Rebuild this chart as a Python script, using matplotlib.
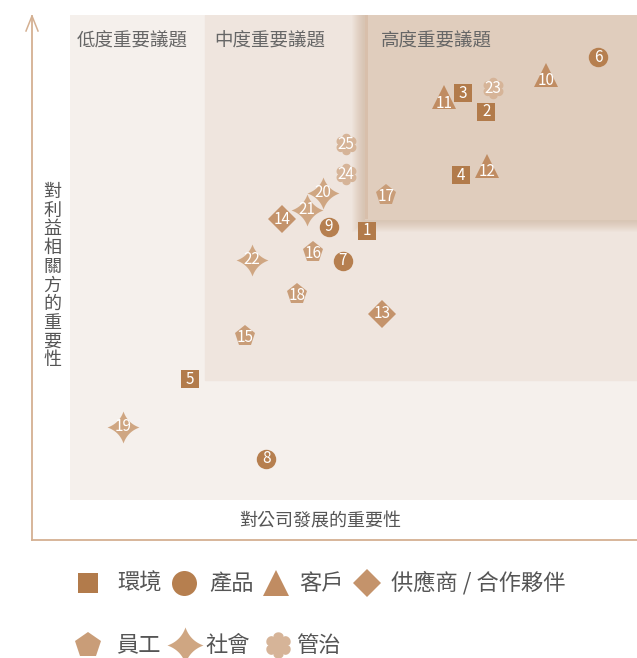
import numpy as np
import matplotlib
matplotlib.use("Agg")
import matplotlib.pyplot as plt
from matplotlib.patches import Rectangle

plt.rcParams['font.family'] = ['Noto Sans CJK TC', 'DejaVu Sans']

# data: issue number, importance to company (x), importance to stakeholders (y)
env_ids = [1, 2, 3, 4, 5]
env_x = [5.24, 7.34, 6.93, 6.90, 2.12]
env_y = [5.55, 8.00, 8.39, 6.70, 2.49]

prod_ids = [6, 7, 8, 9]
prod_x = [9.31, 4.81, 3.46, 4.57]
prod_y = [9.13, 4.93, 0.85, 5.63]

cust_ids = [10, 11, 12]
cust_x = [8.40, 6.60, 7.35]
cust_y = [8.76, 8.30, 6.89]

supp_ids = [13, 14]
supp_x = [5.50, 3.74]
supp_y = [3.84, 5.79]

emp_ids = [15, 16, 17, 18]
emp_x = [3.09, 4.29, 5.57, 4.00]
emp_y = [3.38, 5.11, 6.29, 4.25]

soc_ids = [19, 20, 21, 22]
soc_x = [0.93, 4.46, 4.18, 3.21]
soc_y = [1.51, 6.33, 5.98, 4.95]

gov_ids = [23, 24, 25]
gov_x = [7.46, 4.87, 4.87]
gov_y = [8.49, 6.72, 7.34]

legend_labels = ['環境', '產品', '客戶', '供應商 / 合作夥伴', '員工', '社會', '管治']
region_labels = ['低度重要議題', '中度重要議題', '高度重要議題']
xlabel = '對公司發展的重要性'
ylabel = '對利益相關方的重要性'

# custom marker shapes
# 4-point star: concave curves between tips
tips = [(1, 0), (0, 1), (-1, 0), (0, -1), (1, 0)]
s = np.linspace(0, 1, 30)[:, None]
pts = []
for a, b in zip(tips[:-1], tips[1:]):
    a = np.array(a, float)
    b = np.array(b, float)
    c = (a + b) * 0.26
    pts.append((1 - s) ** 2 * a + 2 * s * (1 - s) * c + s ** 2 * b)
star_marker = np.vstack(pts)
t = np.linspace(0, 2 * np.pi, 240)
r_flower = 0.72 + 0.28 * np.abs(np.sin(3 * t)) ** 0.5
flower_marker = np.column_stack([r_flower * np.cos(t), r_flower * np.sin(t)])

groups = [
    (env_ids, env_x, env_y, 's', 12.5, '#b27b4b', 0),
    (prod_ids, prod_x, prod_y, 'o', 14, '#b67f4f', 0),
    (cust_ids, cust_x, cust_y, '^', 17, '#c08c62', -0.12),
    (supp_ids, supp_x, supp_y, 'D', 14.5, '#c4936b', 0),
    (emp_ids, emp_x, emp_y, 'p', 15.5, '#c99d78', -0.03),
    (soc_ids, soc_x, soc_y, star_marker, 23, '#cfa682', 0),
    (gov_ids, gov_x, gov_y, flower_marker, 15.5, '#d6b498', 0),
]

fig = plt.figure(figsize=(6.37, 6.58), dpi=100)
W, H = 637, 658

# overlay in pixel coords for frame, labels and legend
ov = fig.add_axes([0, 0, 1, 1], zorder=0)
ov.set_xlim(0, W)
ov.set_ylim(H, 0)
ov.axis('off')

axis_col = '#d4b092'
ov.plot([32, 32], [540, 16], color=axis_col, lw=1.3)
ov.plot([32, W], [540, 540], color=axis_col, lw=1.3)
ov.plot([26, 32, 38], [31, 16, 31], color=axis_col, lw=1.1)

ov.text(320, 522, xlabel, fontsize=13, color='#555555', ha='center', va='center')
for i, ch in enumerate(ylabel):
    ov.text(52, 192 + i * 18.7, ch, fontsize=13, color='#555555', ha='center', va='center')

# main plot area
left, right, top, bottom = 70, 637, 15, 500
ax = fig.add_axes([left / W, 1 - bottom / H, (right - left) / W, (bottom - top) / H], zorder=1)
ax.set_xlim(0, 10)
ax.set_ylim(0, 10)
ax.set_facecolor('none')
ax.axis('off')

ax.add_patch(Rectangle((0, 0), 10, 10, color='#f5f0ec', zorder=0))
mx, my = 2.38, 2.47
ax.add_patch(Rectangle((mx, my), 10 - mx, 10 - my, color='#efe5de', zorder=0.5))
hx, hy = 5.20, 5.79
dx, dy = 10 / 567, 10 / 485
for k in range(13, 0, -1):
    ax.add_patch(Rectangle((hx - k * dx, hy - k * dy), 10, 10, color='#b07a4a',
                           alpha=0.025, lw=0, zorder=0.6))
ax.add_patch(Rectangle((hx, hy), 10 - hx, 10 - hy, color='#e0cdbd', zorder=0.7))
ax.add_patch(Rectangle((hx, hy), 3 * dx, 10 - hy, color='#d8bfab', lw=0, zorder=0.75))

for lab, x0 in zip(region_labels, [0.12, 2.55, 5.48]):
    ax.text(x0, 9.46, lab, fontsize=13.3, color='#666666', ha='left', va='center', zorder=1)

for ids, xs, ys, mk, ms, col, off in groups:
    ax.plot(xs, ys, linestyle='none', marker=mk, markersize=ms, color=col,
            markeredgewidth=0, zorder=2, clip_on=False)
    for n, x, y in zip(ids, xs, ys):
        ax.text(x, y + off, str(n), fontsize=11, color='white', ha='center',
                va='center', zorder=3)

# legend
leg_items = [
    (88, 583, 's', 15, 117), (184, 583, 'o', 18, 209), (276, 583, '^', 19, 299),
    (367, 583, 'D', 14, 391), (88, 645, 'p', 19, 116), (185, 645, star_marker, 26, 205),
    (278, 645, flower_marker, 19, 296),
]
for (px, py, mk, ms, tx), (_, _, _, _, _, col, _), lab in zip(leg_items, groups, legend_labels):
    ov.plot([px], [py], marker=mk, markersize=ms, color=col, markeredgewidth=0)
    ov.text(tx, py, lab, fontsize=16, color='#555555', ha='left', va='center')

fig.savefig('out.png', dpi=100)
